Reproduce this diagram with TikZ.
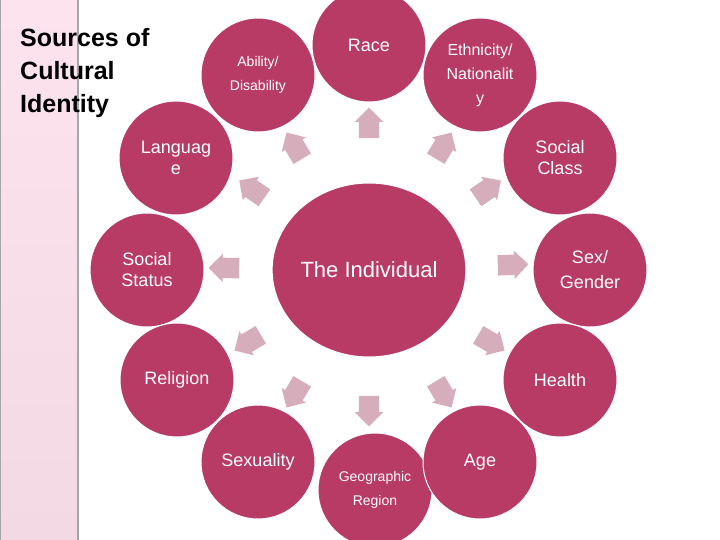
\documentclass[tikz,border=0pt]{standalone}
\usepackage{fontspec}
\setmainfont{Liberation Sans}
\usetikzlibrary{shapes.arrows,shapes.geometric}
\definecolor{berry}{HTML}{B83B66}
\definecolor{parrow}{HTML}{D6AEBB}
\definecolor{stripA}{HTML}{FCE3EE}
\definecolor{stripB}{HTML}{F3D9E4}
\tikzset{
 circ/.style={circle,fill=berry,draw=white,line width=1pt,minimum size=114pt,inner sep=0pt,text=white,align=center,font=\fontsize{18}{21}\selectfont},
 small/.style={font=\fontsize{14}{24}\selectfont},
 parr/.style={single arrow,fill=parrow,minimum height=28pt,minimum width=28pt,single arrow head extend=4pt,inner sep=10pt}
}
\begin{document}
\begin{tikzpicture}[x=1pt,y=-1pt]
\useasboundingbox (0,0) rectangle (720,540);
\fill[white] (0,0) rectangle (720,540);
\shade[top color=stripA,bottom color=stripB] (0,0) rectangle (78,540);
\draw[gray!70,line width=1.2pt] (78,0) -- (78,540);
\draw[gray!70,line width=0.8pt] (0.5,0) -- (0.5,540);
\node[anchor=north west,align=left,font=\bfseries\fontsize{25}{33}\selectfont,inner sep=0pt] (title) at (20,28) {Sources of\\Cultural\\Identity};
\node[circ,ellipse,minimum width=192pt,minimum height=174pt,font=\fontsize{22}{26}\selectfont] (ind) at (369,270) {The Individual};
\node[circ] (race) at (369,45) {Race};
\node[circ,small] (eth) at (480,75) {\fontsize{16}{24}\selectfont Ethnicity/\\\fontsize{16}{22}\selectfont Nationalit\\\fontsize{16}{16}\selectfont y};
\node[circ,small] (abl) at (258,75) {Ability/\\Disability};
\node[circ] (lang) at (176,158) {Languag\\e};
\node[circ] (scls) at (560,158) {Social\\Class};
\node[circ] (ssts) at (147,270) {Social\\Status};
\node[circ] (sex) at (590,270) {Sex/\\[4pt]Gender};
\node[circ] (rel) at (177,380) {Religion};
\node[circ] (hlth) at (560,380) {Health};
\node[circ] (sxl) at (258,462) {Sexuality};
\node[circ,small] (geo) at (375,490) {Geographic\\Region};
\node[circ] (age) at (480,462) {Age};
\foreach \n/\x/\y in {a1/369/128,a2/297/150,a3/441/150,a4/256/192,a5/484/192,a6/229/268,a7/508/265,a8/252/340,a9/487/340,a10/297/390,a11/441/390,a12/369/406}{
  \node[parr,rotate={atan2(270-\y,\x-369)}] (\n) at (\x,\y) {};
}
\end{tikzpicture}
\end{document}
